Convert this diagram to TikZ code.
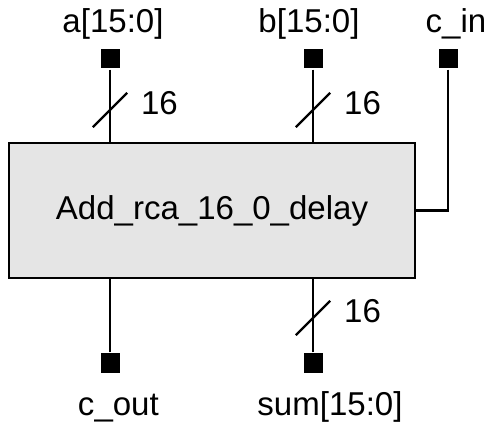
\documentclass[tikz,border=0pt]{standalone}
\usepackage{fontspec}
\setmainfont{Liberation Sans}
\usetikzlibrary{positioning}

\begin{document}
\begin{tikzpicture}[line width=1.6pt,
    port/.style={fill=black, inner sep=0pt, minimum size=0.475cm},
    lbl/.style={font=\fontsize{23.5pt}{28pt}\selectfont, inner sep=0pt, anchor=base}]
    \useasboundingbox (0,0) rectangle (12.25,10.6);
    % 1. Khoi cong
    \node[draw, fill=gray!20, minimum width=10.15cm, minimum height=3.375cm,
        lbl, anchor=center] (add) at (5.3,5.3375) {Add\_rca\_16\_0\_delay};

    % 2. Cac chan vao / ra
    \node[port] (pa) at (2.75,9.125) {};
    \node[port] (pb) at (7.825,9.125) {};
    \node[port] (pcin) at (11.2,9.125) {};
    \node[port] (pcout) at (2.75,1.525) {};
    \node[port] (psum) at (7.825,1.525) {};

    % 3. Day noi
    \draw (pa) -- (pa |- add.north);
    \draw (pb) -- (pb |- add.north);
    \draw (pcin) |- (add.east);
    \draw (pcout) -- (pcout |- add.south);
    \draw (psum) -- (psum |- add.south);

    % 4. Vach bus
    \draw (2.32,7.42) -- (3.18,8.28);
    \draw (7.395,7.42) -- (8.255,8.28);
    \draw (7.395,2.22) -- (8.255,3.08);
    \node[lbl, anchor=base west] (wa) at (3.5,7.725) {16};
    \node[lbl, anchor=base west] (wb) at (8.575,7.725) {16};
    \node[lbl, anchor=base west] (wsum) at (8.575,2.525) {16};

    % 5. Nhan
    \node[lbl] (la) at (2.825,9.775) {a[15:0]};
    \node[lbl] (lb) at (7.725,9.775) {b[15:0]};
    \node[lbl] (lcin) at (11.4,9.775) {c\_in};
    \node[lbl] (lcout) at (2.96,0.225) {c\_out};
    \node[lbl] (lsum) at (8.25,0.225) {sum[15:0]};
\end{tikzpicture}
\end{document}
